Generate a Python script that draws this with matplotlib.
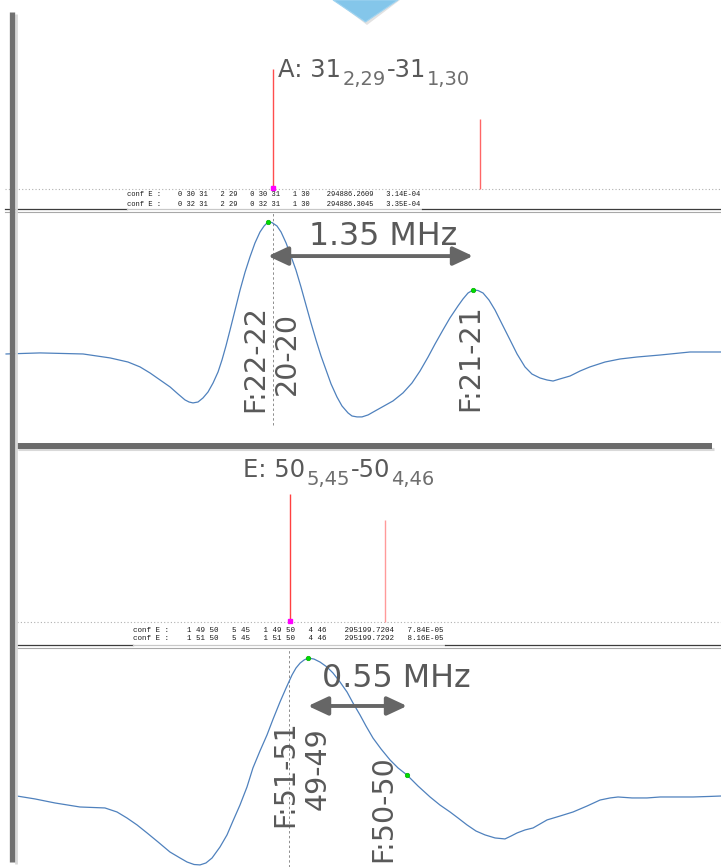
import numpy as np
import matplotlib
matplotlib.use("Agg")
import matplotlib.pyplot as plt
from matplotlib.patches import Polygon

W, H = 721, 867
TXT = "#595959"
SUB = "#6e6e6e"
BLUE = "#4f81bd"

# ---- transition A: 31(2,29)-31(1,30) ----
# frequency offset in MHz from the F:22-22 peak, normalised intensity
a_freq = [-1.725, -1.501, -1.218, -1.040, -0.922, -0.843, -0.777, -0.711, -0.645,
          -0.593, -0.547, -0.520, -0.494, -0.461, -0.428, -0.395, -0.362, -0.329,
          -0.303, -0.277, -0.250, -0.217, -0.184, -0.151, -0.119, -0.086, -0.053,
          -0.026, 0.0, 0.026, 0.059, 0.086, 0.119, 0.151, 0.184, 0.217, 0.250,
          0.283, 0.316, 0.349, 0.382, 0.415, 0.454, 0.487, 0.527, 0.553, 0.586,
          0.619, 0.659, 0.705, 0.764, 0.823, 0.889, 0.948, 1.001, 1.054, 1.100,
          1.152, 1.198, 1.251, 1.284, 1.317, 1.350, 1.383, 1.416, 1.455, 1.495,
          1.541, 1.594, 1.640, 1.692, 1.738, 1.791, 1.837, 1.877, 1.923, 1.989,
          2.055, 2.120, 2.219, 2.318, 2.430, 2.581, 2.779, 2.983]
a_int = [0.0, 0.008, 0.0, -0.030, -0.061, -0.098, -0.144, -0.197, -0.250,
         -0.303, -0.348, -0.364, -0.371, -0.364, -0.333, -0.288, -0.220, -0.136,
         -0.045, 0.061, 0.182, 0.333, 0.485, 0.621, 0.735, 0.841, 0.924,
         0.970, 1.0, 0.996, 0.970, 0.924, 0.841, 0.742, 0.636, 0.508, 0.371,
         0.235, 0.106, -0.015, -0.121, -0.227, -0.326, -0.394, -0.447, -0.470, -0.477,
         -0.477, -0.462, -0.432, -0.394, -0.356, -0.295, -0.220, -0.129, -0.023, 0.076,
         0.182, 0.273, 0.364, 0.417, 0.462, 0.485, 0.481, 0.462, 0.409, 0.333,
         0.227, 0.106, 0.0, -0.098, -0.152, -0.182, -0.197, -0.205, -0.189, -0.167,
         -0.129, -0.098, -0.061, -0.038, -0.023, -0.008, 0.015, 0.015]
a_peak_freq = [0.0, 1.35]
a_peak_int = [1.0, 0.485]
a_split = 1.35
a_stick_freq = [0.033, 1.396]
a_stick_int = [1.0, 0.583]
a_cursor = 0.033
a_title = [("A: 31", False), ("2,29", True), ("-31", False), ("1,30", True)]
a_labels = ["F:22-22", "20-20", "F:21-21"]
a_label_freq = [-0.086, 0.125, 1.33]
a_label_int = [-0.034, 0.004, -0.03]
a_cat = ["conf E :    0 30 31   2 29   0 30 31   1 30    294886.2609   3.14E-04",
         "conf E :    0 32 31   2 29   0 32 31   1 30    294886.3045   3.35E-04"]

# ---- transition E: 50(5,45)-50(4,46) ----
e_freq = [-1.617, -1.517, -1.406, -1.267, -1.128, -1.061, -1.006, -0.950, -0.894,
          -0.833, -0.767, -0.711, -0.672, -0.633, -0.600, -0.567, -0.533, -0.489,
          -0.450, -0.417, -0.378, -0.339, -0.306, -0.267, -0.228, -0.194, -0.156,
          -0.122, -0.089, -0.067, -0.044, -0.022, 0.0, 0.033, 0.067, 0.106, 0.139,
          0.178, 0.217, 0.250, 0.289, 0.322, 0.361, 0.406, 0.456, 0.500, 0.550,
          0.611, 0.678, 0.733, 0.789, 0.833, 0.883, 0.933, 0.983, 1.039, 1.094,
          1.128, 1.161, 1.206, 1.250, 1.289, 1.328, 1.400, 1.472, 1.550, 1.622,
          1.678, 1.722, 1.800, 1.883, 1.956, 2.028, 2.139, 2.233, 2.294]
e_int = [0.007, -0.014, -0.043, -0.072, -0.079, -0.108, -0.151, -0.201, -0.259,
         -0.324, -0.396, -0.439, -0.468, -0.486, -0.489, -0.475, -0.439, -0.360,
         -0.273, -0.173, -0.058, 0.072, 0.209, 0.331, 0.446, 0.561, 0.683,
         0.784, 0.878, 0.928, 0.964, 0.986, 1.0, 0.993, 0.971, 0.935, 0.892,
         0.827, 0.755, 0.676, 0.590, 0.511, 0.424, 0.345, 0.266, 0.209, 0.158,
         0.079, 0.0, -0.058, -0.108, -0.151, -0.201, -0.245, -0.273, -0.295, -0.302,
         -0.281, -0.259, -0.237, -0.223, -0.194, -0.165, -0.137, -0.108, -0.065, -0.022,
         -0.007, 0.0, -0.007, -0.007, 0.0, 0.0, 0.0, 0.004, 0.007]
e_peak_freq = [0.0, 0.55]
e_peak_int = [1.0, 0.158]
e_split = 0.55
e_stick_freq = [-0.1, 0.428]
e_stick_int = [1.0, 0.797]
e_cursor = -0.106
e_title = [("E: 50", False), ("5,45", True), ("-50", False), ("4,46", True)]
e_labels = ["F:51-51", "49-49", "F:50-50"]
e_label_freq = [-0.128, 0.056, 0.417]
e_label_int = [0.165, 0.201, -0.086]
e_cat = ["conf E :    1 49 50   5 45   1 49 50   4 46    295199.7204   7.84E-05",
         "conf E :    1 51 50   5 45   1 51 50   4 46    295199.7292   8.16E-05"]


def add_panel(fig, top, bottom, xlim, ylim):
    # axes spanning the full width between two pixel rows
    ax = fig.add_axes([0, 1 - bottom / H, 1, (bottom - top) / H])
    ax.set_xlim(*xlim)
    ax.set_ylim(*ylim)
    ax.axis("off")
    return ax


def draw_title(ax, x, y, parts):
    # quantum-number label: each piece placed after the previous one,
    # subscripts smaller and dropped below the baseline
    s, _ = parts[0]
    prev = ax.text(x, y, s, fontsize=17.5, color=TXT, va="baseline", ha="left")
    for s, sub in parts[1:]:
        prev = ax.annotate(s, xy=(1, y), xycoords=(prev, "data"),
                           xytext=(0.8, -5.8 if sub else 0), textcoords="offset points",
                           fontsize=14 if sub else 17.5, color=SUB if sub else TXT,
                           va="baseline", ha="left")


def stick_panel(ax, freq, inten, colors, cursor, title, tx, ty):
    ax.vlines(freq, 0, inten, colors=colors, lw=1.0)
    ax.plot([cursor], [0.01], "s", color="#ff00ff", ms=3.3, clip_on=False, zorder=5)
    draw_title(ax, tx, ty, title)


def spec_panel(ax, freq, inten, pfreq, pint, split, cursor, cur_lo, cur_hi,
               arrow_y, txt_x, txt_y, labels, lx, ly):
    ax.plot([cursor, cursor], [cur_lo, cur_hi], color="#8c8c8c", lw=0.7,
            ls=(0, (2.5, 2.5)))
    ax.plot(freq, inten, color=BLUE, lw=0.9)
    ax.plot(pfreq, pint, "o", color="#00dd00", ms=3.2, mec="#00b000", mew=0.5)
    ax.annotate("", xy=(pfreq[0] + split, arrow_y), xytext=(pfreq[0], arrow_y),
                arrowprops=dict(arrowstyle="<|-|>,head_length=0.6,head_width=0.28",
                                color="#666666", lw=2.8, mutation_scale=20,
                                shrinkA=0, shrinkB=0))
    ax.text(txt_x, txt_y, "%.2f MHz" % split, fontsize=22.8, color=TXT,
            ha="center", va="baseline")
    for s, x, y in zip(labels, lx, ly):
        ax.text(x, y, s, rotation=90, fontsize=20.5, color=TXT,
                ha="center", va="center")


fig = plt.figure(figsize=(W / 100, H / 100), dpi=100)

# A sticks and spectrum share the frequency scale
a_xlim = (-1.765, 2.983)
ax1 = add_panel(fig, 30, 207, a_xlim, (-0.15, 1.325))
ax1.axhline(0, xmin=5 / W, color="#b0b0b0", lw=0.8, ls=(0, (1, 2)))
stick_panel(ax1, a_stick_freq, a_stick_int, ["#ff4d4d", "#ff6666"], a_cursor,
            a_title, 0.066, 0.933)

ax2 = add_panel(fig, 212, 440, a_xlim, (-0.652, 1.076))
spec_panel(ax2, a_freq, a_int, a_peak_freq, a_peak_int, a_split, a_cursor,
           -0.538, 1.076, 0.742, 0.757, 0.826, a_labels, a_label_freq, a_label_int)

e_xlim = (-1.711, 2.294)
ax3 = add_panel(fig, 455, 642, e_xlim, (-0.156, 1.305))
ax3.axhline(0, xmin=17 / W, color="#b0b0b0", lw=0.8, ls=(0, (1, 2)))
stick_panel(ax3, e_stick_freq, e_stick_int, ["#ff4040", "#ff9a9a"], e_stick_freq[0],
            e_title, -0.361, 1.133)

ax4 = add_panel(fig, 650, 867, e_xlim, (-0.504, 1.058))
spec_panel(ax4, e_freq, e_int, e_peak_freq, e_peak_int, e_split, e_cursor,
           -0.504, 1.058, 0.655, 0.489, 0.791, e_labels, e_label_freq, e_label_int)

# frame decorations in pixel units
ov = fig.add_axes([0, 0, 1, 1])
ov.set_xlim(0, W)
ov.set_ylim(H, 0)
ov.axis("off")

# catalogue lines and panel separators
for lines, x0, y0, dy, size, ysep, x_end in [(a_cat, 127, 195, 9, 5.1, 208.5, 422),
                                             (e_cat, 133, 630, 9, 5.4, 644.5, 445)]:
    for i, s in enumerate(lines):
        ov.text(x0, y0 + i * dy, s, family="Liberation Mono", fontsize=size,
                color="#1a1a1a", va="center", ha="left")
    left = 5 if x0 == 127 else 17
    ov.plot([left, x0], [ysep, ysep], color="#3c3c3c", lw=0.9)
    ov.plot([x0, x_end], [ysep, ysep], color="#c8c8c8", lw=0.9)
    ov.plot([x_end, W], [ysep, ysep], color="#3c3c3c", lw=0.9)
    ov.plot([left, W], [ysep + 3, ysep + 3], color="#a8a8a8", lw=0.8)

# thick grey rules
ov.plot([18, 714], [449, 449], color="#d9d9d9", lw=2.2, solid_capstyle="butt")
ov.plot([17, 712], [446, 446], color="#6b6b6b", lw=4.3, solid_capstyle="butt")
ov.plot([16, 16], [14, 864], color="#d9d9d9", lw=2.0, solid_capstyle="butt")
ov.plot([12, 12], [12, 862], color="#707070", lw=3.8, solid_capstyle="butt")

# blue arrow tip at the top
ov.add_patch(Polygon([(334, 0), (400, 0), (367, 25)], closed=True,
                     fc="#cfcfcf", ec="none", alpha=0.6))
ov.add_patch(Polygon([(333, 0), (398, 0), (365.5, 22)], closed=True,
                     fc="#84c6ea", ec="#9fd3f0", lw=0.8))

fig.savefig("out.png", dpi=100)
